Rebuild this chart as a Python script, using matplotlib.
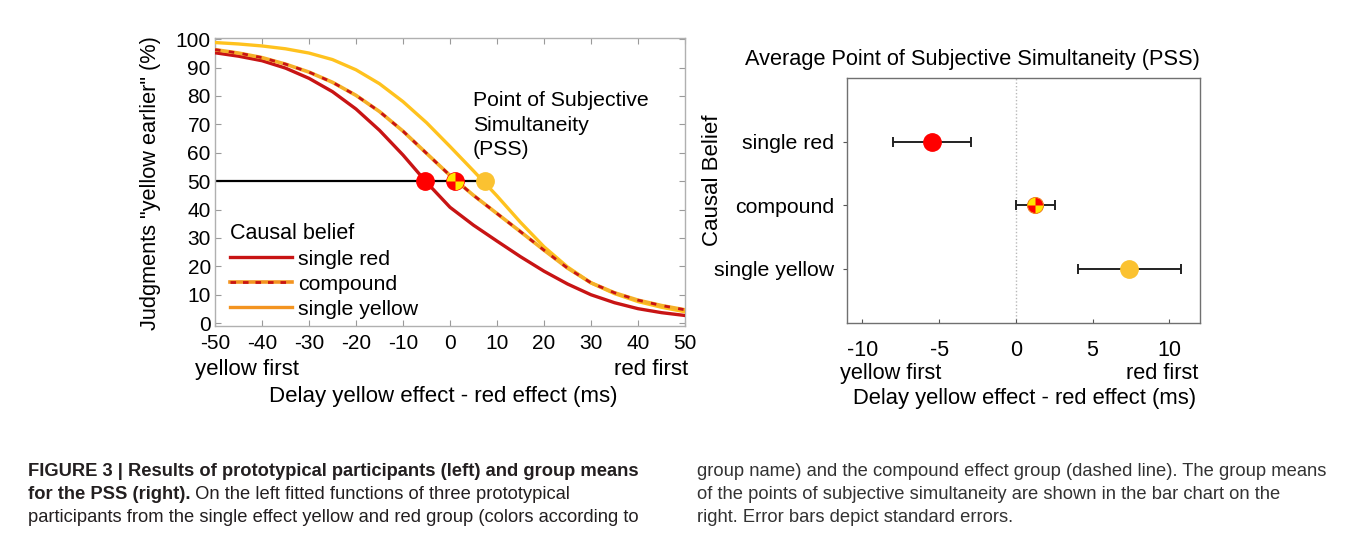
import matplotlib
matplotlib.use("Agg")
import matplotlib.pyplot as plt
from matplotlib.lines import Line2D
from matplotlib.path import Path

# ---------------- data ----------------
delay = [-50, -45, -40, -35, -30, -25, -20, -15, -10, -5, 0, 5, 10, 15, 20, 25, 30, 35, 40, 45, 50]
red_pct = [95.2, 94.0, 92.4, 89.8, 86.2, 81.5, 75.4, 67.9, 59.2, 49.6, 40.8, 34.5, 28.9, 23.4, 18.3, 13.8, 10.0, 7.2, 5.1, 3.7, 2.7]
compound_pct = [96.3, 95.1, 93.5, 91.2, 88.4, 84.8, 80.2, 74.5, 67.6, 59.8, 52.0, 45.0, 38.6, 32.2, 25.7, 19.4, 14.2, 10.7, 8.1, 6.2, 4.7]
yellow_pct = [98.8, 98.3, 97.6, 96.6, 95.1, 92.8, 89.2, 84.3, 78.0, 70.6, 62.2, 53.6, 44.8, 35.5, 26.9, 19.8, 14.2, 10.4, 7.6, 5.6, 4.0]
pss_left = [-5.4, 1.0, 7.5]          # red, compound, yellow
pss_level = 50

groups = ["single red", "compound", "single yellow"]
group_pos = [3, 2, 1]
pss_mean = [-5.45, 1.28, 7.4]
pss_se = [2.55, 1.28, 3.37]

left_xticks = [-50, -40, -30, -20, -10, 0, 10, 20, 30, 40, 50]
left_yticks = [0, 10, 20, 30, 40, 50, 60, 70, 80, 90, 100]
right_xticks = [-10, -5, 0, 5, 10]

caption_left = ["FIGURE 3 | Results of prototypical participants (left) and group means",
                "for the PSS (right).",
                " On the left fitted functions of three prototypical",
                "participants from the single effect yellow and red group (colors according to"]
caption_right = ["group name) and the compound effect group (dashed line). The group means",
                 "of the points of subjective simultaneity are shown in the bar chart on the",
                 "right. Error bars depict standard errors."]

# ---------------- style ----------------
plt.rcParams['font.family'] = ['Liberation Sans', 'DejaVu Sans']
plt.rcParams['axes.unicode_minus'] = False

RED_LINE = '#C81414'
YEL_LINE = '#FFC21E'
CMP_BASE = '#F5B028'
RED_DOT = '#FF0000'
YEL_DOT = '#FBC231'
QUAD_Y = '#FFE800'
LEG_ORANGE = '#F39420'
GRAY = '#9A9A9A'

LBL = 16
TCK = 15

fig = plt.figure(figsize=(13.54, 5.38), dpi=100)

quad = Path.make_compound_path(Path.wedge(90, 180), Path.wedge(270, 360))

# ---------------- left panel ----------------
ax = fig.add_axes([215/1354, 1-326/538, 470/1354, 288/538])
ax.plot(delay, red_pct, color=RED_LINE, lw=2.4, zorder=3)
ax.plot(delay, yellow_pct, color=YEL_LINE, lw=2.4, zorder=3)
ax.plot(delay, compound_pct, color=CMP_BASE, lw=2.6, zorder=4)
ax.plot(delay, compound_pct, color=RED_LINE, lw=2.0, dashes=(2.0, 3.0), zorder=5)
ax.hlines(pss_level, delay[0], pss_left[2], color='black', lw=1.6, zorder=2)
ms = 12.5
ax.plot(pss_left[0], pss_level, 'o', ms=ms, color=RED_DOT, mec=RED_DOT, zorder=6)
ax.plot(pss_left[1], pss_level, 'o', ms=ms, color=RED_DOT, mec=RED_DOT, zorder=6)
ax.plot(pss_left[1], pss_level, marker=quad, ms=ms, color=QUAD_Y, mec='none', ls='none', zorder=7)
ax.plot(pss_left[2], pss_level, 'o', ms=ms, color=YEL_DOT, mec=YEL_DOT, zorder=6)

ax.set_xlim(-50, 50)
ax.set_ylim(-1.0, 100.4)
ax.set_xticks(left_xticks)
ax.set_yticks(left_yticks)
ax.tick_params(direction='in', length=4, color=GRAY, top=True, right=True, labelsize=TCK)
ax.tick_params(axis='x', pad=6)
ax.tick_params(axis='y', pad=3)
for s in ax.spines.values():
    s.set_color('#B0B0B0')
    s.set_linewidth(1.0)

ax.text(4.9, 81.8, "Point of Subjective\nSimultaneity\n(PSS)", fontsize=15.3, ha='left', va='top', linespacing=1.38)
ax.text(-0.043, -0.152, "yellow first", transform=ax.transAxes, fontsize=LBL, ha='left', va='center')
ax.text(1.006, -0.152, "red first", transform=ax.transAxes, fontsize=LBL, ha='right', va='center')
ax.text(0.485, -0.246, "Delay yellow effect - red effect (ms)", transform=ax.transAxes, fontsize=LBL, ha='center', va='center')
ax.text(-0.138, 0.497, 'Judgments "yellow earlier" (%)', transform=ax.transAxes, fontsize=15.7,
        ha='center', va='center', rotation=90)

h_red = Line2D([], [], color=RED_LINE, lw=2.4)
h_cmp = (Line2D([], [], color=LEG_ORANGE, lw=2.6), Line2D([], [], color=RED_LINE, lw=2.0, dashes=(2.0, 2.5)))
h_yel = Line2D([], [], color=LEG_ORANGE, lw=2.4)
leg = ax.legend([h_red, h_cmp, h_yel], groups, title="Causal belief", loc='lower left',
                bbox_to_anchor=(0.0, -0.026), frameon=False, fontsize=15.3, title_fontsize=15.5,
                handlelength=2.9, handletextpad=0.3, labelspacing=0.28, borderpad=0.2,
                alignment='left')

# ---------------- right panel ----------------
ax2 = fig.add_axes([847/1354, 1-323/538, 353/1354, 245/538])
ax2.axvline(0, color='#B8B8B8', lw=1.0, ls=(0, (1, 1.5)), zorder=1)
ax2.errorbar(pss_mean, group_pos, xerr=pss_se, fmt='none', ecolor='#222222', elinewidth=1.4,
             capsize=3.6, capthick=1.4, zorder=2)
ax2.plot(pss_mean[0], group_pos[0], 'o', ms=12.5, color=RED_DOT, mec=RED_DOT, zorder=3)
ax2.plot(pss_mean[1], group_pos[1], 'o', ms=11.5, color=RED_DOT, mec='#F08020', mew=0.8, zorder=3)
ax2.plot(pss_mean[1], group_pos[1], marker=quad, ms=11.0, color=QUAD_Y, mec='none', ls='none', zorder=4)
ax2.plot(pss_mean[2], group_pos[2], 'o', ms=12.5, color=YEL_DOT, mec=YEL_DOT, zorder=3)

ax2.set_xlim(-11, 12)
ax2.set_ylim(0.15, 4.0)
ax2.set_xticks(right_xticks)
ax2.set_yticks(group_pos)
ax2.set_yticklabels(groups)
ax2.tick_params(axis='x', direction='in', length=3, color='#555555', labelsize=TCK+0.5, pad=12)
ax2.tick_params(axis='y', direction='out', length=3, color='#555555', labelsize=TCK+0.3, pad=6)
for s in ax2.spines.values():
    s.set_color('#707070')
    s.set_linewidth(1.0)
ax2.set_title("Average Point of Subjective Simultaneity (PSS)", fontsize=15.7, x=0.354, y=1.02)
ax2.text(-0.382, 0.584, "Causal Belief", transform=ax2.transAxes, fontsize=16, rotation=90,
         ha='center', va='center')
ax2.text(-0.02, -0.206, "yellow first", transform=ax2.transAxes, fontsize=15.7, ha='left', va='center')
ax2.text(0.994, -0.206, "red first", transform=ax2.transAxes, fontsize=15.7, ha='right', va='center')
ax2.text(0.504, -0.31, "Delay yellow effect - red effect (ms)", transform=ax2.transAxes, fontsize=15.8,
         ha='center', va='center')

# ---------------- caption ----------------
W, H = 1354, 538
ccol = '#231F20'
CFS = 13.2
x0 = 28
ys = [472, 494.5, 517]
fig.text(x0/W, 1-ys[0]/H, caption_left[0], fontsize=CFS, fontweight='bold', color=ccol, va='center')
t_b = fig.text(x0/W, 1-ys[1]/H, caption_left[1], fontsize=CFS, fontweight='bold', color=ccol, va='center')
fig.canvas.draw()
bb = t_b.get_window_extent()
fig.text(bb.x1/W, 1-ys[1]/H, caption_left[2], fontsize=CFS, color=ccol, va='center')
fig.text(x0/W, 1-ys[2]/H, caption_left[3], fontsize=CFS, color=ccol, va='center')
for i, line in enumerate(caption_right):
    fig.text(697/W, 1-ys[i]/H, line, fontsize=CFS, color='#333333', va='center')

fig.savefig("out.png", dpi=100)
